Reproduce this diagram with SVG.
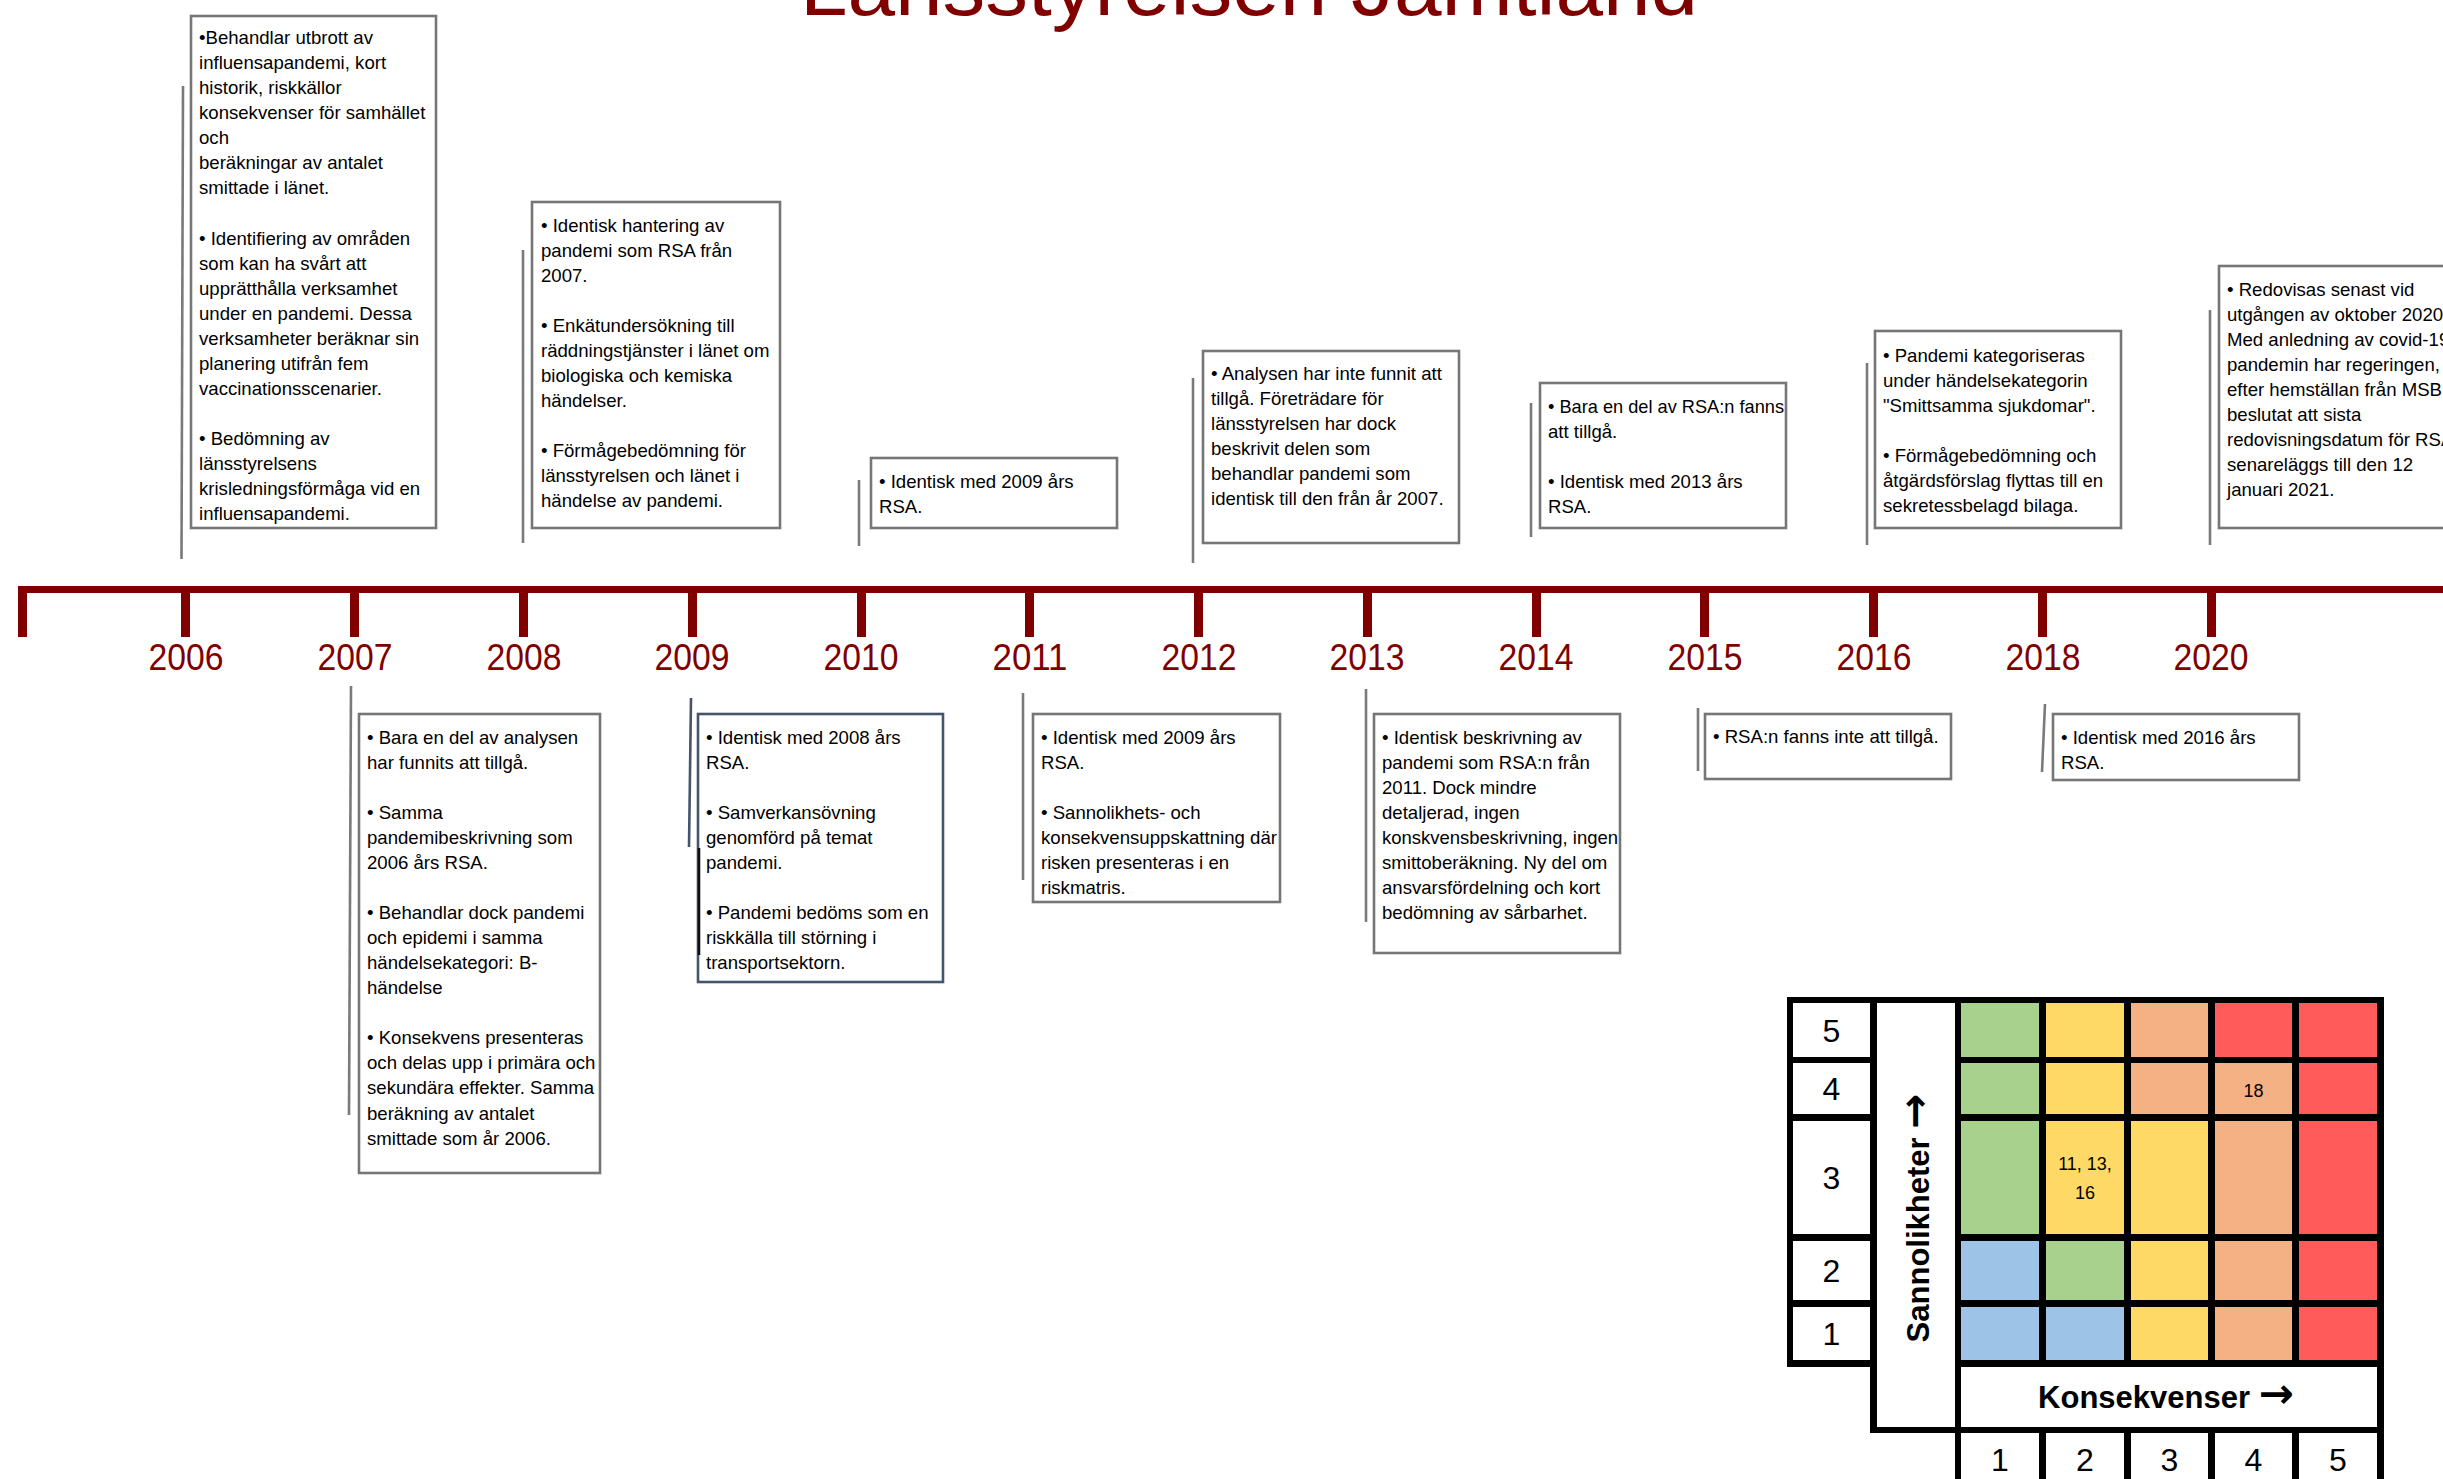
<svg xmlns="http://www.w3.org/2000/svg" width="2443" height="1479" viewBox="0 0 2443 1479">
  <style>
    .box { fill: #ffffff; stroke: #767676; stroke-width: 2.6; }
    .box-blue { fill: #ffffff; stroke: #44546a; stroke-width: 2.6; }
    .txt { font-family: "Liberation Sans", Arial, sans-serif; font-size: 18.6px; fill: #000000; }
    .conn { stroke: #7a7a7a; stroke-width: 2.6; fill: none; }
    .conn-blue { stroke: #44546a; stroke-width: 2.6; fill: none; }
    .conn-dark { stroke: #111111; stroke-width: 2.6; fill: none; }
    .bar { fill: #800000; }
    .year { font-family: "Liberation Sans", Arial, sans-serif; font-size: 37px; fill: #800000; text-anchor: middle; }
    .title { font-family: "Liberation Sans", Arial, sans-serif; font-size: 84px; fill: #800000; }
    .mnum { font-family: "Liberation Sans", Arial, sans-serif; font-size: 32px; fill: #000000; text-anchor: middle; }
    .mlab { font-family: "Liberation Sans", Arial, sans-serif; font-size: 31px; font-weight: bold; fill: #000000; text-anchor: middle; }
    .arrow { font-family: "DejaVu Sans", sans-serif; font-weight: bold; font-size: 42px; }
    .mcell { font-family: "Liberation Sans", Arial, sans-serif; font-size: 18px; fill: #000000; text-anchor: middle; }
    .white { fill: #ffffff; }
    .g { fill: #a9d18e; }
    .y { fill: #ffd966; }
    .o { fill: #f4b183; }
    .r { fill: #ff5b5b; }
    .b { fill: #9dc3e6; }
  </style>

  <rect x="0" y="0" width="2443" height="1479" fill="#ffffff"/>

  <!-- heading, mostly above the top edge -->
  <text class="title" x="800" y="15" textLength="898" lengthAdjust="spacingAndGlyphs">Länsstyrelsen Jämtland</text>

  <!-- timeline axis with year ticks -->
  <g id="timeline">
    <rect class="bar" x="18" y="586" width="2425" height="7"/>
    <rect class="bar" x="18" y="586" width="9" height="51"/>
    <rect class="bar" x="181" y="586" width="9" height="51"/>
    <rect class="bar" x="350" y="586" width="9" height="51"/>
    <rect class="bar" x="519" y="586" width="9" height="51"/>
    <rect class="bar" x="688" y="586" width="9" height="51"/>
    <rect class="bar" x="857" y="586" width="9" height="51"/>
    <rect class="bar" x="1025" y="586" width="9" height="51"/>
    <rect class="bar" x="1194" y="586" width="9" height="51"/>
    <rect class="bar" x="1363" y="586" width="9" height="51"/>
    <rect class="bar" x="1532" y="586" width="9" height="51"/>
    <rect class="bar" x="1700" y="586" width="9" height="51"/>
    <rect class="bar" x="1869" y="586" width="9" height="51"/>
    <rect class="bar" x="2038" y="586" width="9" height="51"/>
    <rect class="bar" x="2207" y="586" width="9" height="51"/>
    <text class="year" x="186" y="670" textLength="75" lengthAdjust="spacingAndGlyphs">2006</text>
    <text class="year" x="355" y="670" textLength="75" lengthAdjust="spacingAndGlyphs">2007</text>
    <text class="year" x="524" y="670" textLength="75" lengthAdjust="spacingAndGlyphs">2008</text>
    <text class="year" x="692" y="670" textLength="75" lengthAdjust="spacingAndGlyphs">2009</text>
    <text class="year" x="861" y="670" textLength="75" lengthAdjust="spacingAndGlyphs">2010</text>
    <text class="year" x="1030" y="670" textLength="75" lengthAdjust="spacingAndGlyphs">2011</text>
    <text class="year" x="1199" y="670" textLength="75" lengthAdjust="spacingAndGlyphs">2012</text>
    <text class="year" x="1367" y="670" textLength="75" lengthAdjust="spacingAndGlyphs">2013</text>
    <text class="year" x="1536" y="670" textLength="75" lengthAdjust="spacingAndGlyphs">2014</text>
    <text class="year" x="1705" y="670" textLength="75" lengthAdjust="spacingAndGlyphs">2015</text>
    <text class="year" x="1874" y="670" textLength="75" lengthAdjust="spacingAndGlyphs">2016</text>
    <text class="year" x="2043" y="670" textLength="75" lengthAdjust="spacingAndGlyphs">2018</text>
    <text class="year" x="2211" y="670" textLength="75" lengthAdjust="spacingAndGlyphs">2020</text>
  </g>

  <!-- leader lines from the axis to the note boxes -->
  <g id="connectors">
    <line class="conn" x1="183" y1="86" x2="181.5" y2="559"/>
    <line class="conn" x1="351" y1="686" x2="349" y2="1115"/>
    <line class="conn" x1="523" y1="250" x2="523" y2="543"/>
    <line class="conn-blue" x1="691" y1="698" x2="689" y2="847"/>
    <line class="conn" x1="859" y1="480" x2="859" y2="546"/>
    <line class="conn" x1="1023" y1="693" x2="1023" y2="880"/>
    <line class="conn" x1="1193" y1="378" x2="1193" y2="563"/>
    <line class="conn" x1="1366" y1="689" x2="1366" y2="922"/>
    <line class="conn" x1="1531" y1="403" x2="1531" y2="537"/>
    <line class="conn" x1="1698" y1="708" x2="1698" y2="771"/>
    <line class="conn" x1="1867" y1="363" x2="1867" y2="545"/>
    <line class="conn" x1="2045" y1="704" x2="2042" y2="772"/>
    <line class="conn" x1="2210" y1="310" x2="2210" y2="545"/>
  </g>

  <g id="note-2006">
    <rect class="box" x="191" y="16" width="245" height="512"/>
    <text class="txt" y="44">
      <tspan x="199">•Behandlar utbrott av</tspan>
      <tspan x="199" dy="25.07">influensapandemi, kort</tspan>
      <tspan x="199" dy="25.07">historik, riskkällor</tspan>
      <tspan x="199" dy="25.07">konsekvenser för samhället</tspan>
      <tspan x="199" dy="25.07">och</tspan>
      <tspan x="199" dy="25.07">beräkningar av antalet</tspan>
      <tspan x="199" dy="25.07">smittade i länet.</tspan>
      <tspan x="199" dy="50.14">• Identifiering av områden</tspan>
      <tspan x="199" dy="25.07">som kan ha svårt att</tspan>
      <tspan x="199" dy="25.07">upprätthålla verksamhet</tspan>
      <tspan x="199" dy="25.07">under en pandemi. Dessa</tspan>
      <tspan x="199" dy="25.07">verksamheter beräknar sin</tspan>
      <tspan x="199" dy="25.07">planering utifrån fem</tspan>
      <tspan x="199" dy="25.07">vaccinationsscenarier.</tspan>
      <tspan x="199" dy="50.14">• Bedömning av</tspan>
      <tspan x="199" dy="25.07">länsstyrelsens</tspan>
      <tspan x="199" dy="25.07">krisledningsförmåga vid en</tspan>
      <tspan x="199" dy="25.07">influensapandemi.</tspan>
    </text>
  </g>

  <g id="note-2007">
    <rect class="box" x="359" y="714" width="241" height="459"/>
    <text class="txt" y="743.5">
      <tspan x="367">• Bara en del av analysen</tspan>
      <tspan x="367" dy="25.07">har funnits att tillgå.</tspan>
      <tspan x="367" dy="50.14">• Samma</tspan>
      <tspan x="367" dy="25.07">pandemibeskrivning som</tspan>
      <tspan x="367" dy="25.07">2006 års RSA.</tspan>
      <tspan x="367" dy="50.14">• Behandlar dock pandemi</tspan>
      <tspan x="367" dy="25.07">och epidemi i samma</tspan>
      <tspan x="367" dy="25.07">händelsekategori: B-</tspan>
      <tspan x="367" dy="25.07">händelse</tspan>
      <tspan x="367" dy="50.14">• Konsekvens presenteras</tspan>
      <tspan x="367" dy="25.07">och delas upp i primära och</tspan>
      <tspan x="367" dy="25.07">sekundära effekter. Samma</tspan>
      <tspan x="367" dy="25.07">beräkning av antalet</tspan>
      <tspan x="367" dy="25.07">smittade som år 2006.</tspan>
    </text>
  </g>

  <g id="note-2008">
    <rect class="box" x="532" y="202" width="248" height="326"/>
    <text class="txt" y="231.5">
      <tspan x="541">• Identisk hantering av</tspan>
      <tspan x="541" dy="25.07">pandemi som RSA från</tspan>
      <tspan x="541" dy="25.07">2007.</tspan>
      <tspan x="541" dy="50.14">• Enkätundersökning till</tspan>
      <tspan x="541" dy="25.07">räddningstjänster i länet om</tspan>
      <tspan x="541" dy="25.07">biologiska och kemiska</tspan>
      <tspan x="541" dy="25.07">händelser.</tspan>
      <tspan x="541" dy="50.14">• Förmågebedömning för</tspan>
      <tspan x="541" dy="25.07">länsstyrelsen och länet i</tspan>
      <tspan x="541" dy="25.07">händelse av pandemi.</tspan>
    </text>
  </g>

  <g id="note-2009">
    <rect class="box-blue" x="698" y="714" width="245" height="268"/>
    <line class="conn-dark" x1="699" y1="848" x2="699" y2="955"/>
    <text class="txt" y="743.5">
      <tspan x="706">• Identisk med 2008 års</tspan>
      <tspan x="706" dy="25.07">RSA.</tspan>
      <tspan x="706" dy="50.14">• Samverkansövning</tspan>
      <tspan x="706" dy="25.07">genomförd på temat</tspan>
      <tspan x="706" dy="25.07">pandemi.</tspan>
      <tspan x="706" dy="50.14">• Pandemi bedöms som en</tspan>
      <tspan x="706" dy="25.07">riskkälla till störning i</tspan>
      <tspan x="706" dy="25.07">transportsektorn.</tspan>
    </text>
  </g>

  <g id="note-2010">
    <rect class="box" x="871" y="458" width="246" height="70"/>
    <text class="txt" y="488">
      <tspan x="879">• Identisk med 2009 års</tspan>
      <tspan x="879" dy="25.07">RSA.</tspan>
    </text>
  </g>

  <g id="note-2011">
    <rect class="box" x="1033" y="714" width="247" height="188"/>
    <text class="txt" y="743.5">
      <tspan x="1041">• Identisk med 2009 års</tspan>
      <tspan x="1041" dy="25.07">RSA.</tspan>
      <tspan x="1041" dy="50.14">• Sannolikhets- och</tspan>
      <tspan x="1041" dy="25.07" textLength="236" lengthAdjust="spacingAndGlyphs">konsekvensuppskattning där</tspan>
      <tspan x="1041" dy="25.07">risken presenteras i en</tspan>
      <tspan x="1041" dy="25.07">riskmatris.</tspan>
    </text>
  </g>

  <g id="note-2012">
    <rect class="box" x="1203" y="351" width="256" height="192"/>
    <text class="txt" y="380">
      <tspan x="1211">• Analysen har inte funnit att</tspan>
      <tspan x="1211" dy="25.07">tillgå. Företrädare för</tspan>
      <tspan x="1211" dy="25.07">länsstyrelsen har dock</tspan>
      <tspan x="1211" dy="25.07">beskrivit delen som</tspan>
      <tspan x="1211" dy="25.07">behandlar pandemi som</tspan>
      <tspan x="1211" dy="25.07">identisk till den från år 2007.</tspan>
    </text>
  </g>

  <g id="note-2013">
    <rect class="box" x="1374" y="714" width="246" height="239"/>
    <text class="txt" y="743.5">
      <tspan x="1382">• Identisk beskrivning av</tspan>
      <tspan x="1382" dy="25.07">pandemi som RSA:n från</tspan>
      <tspan x="1382" dy="25.07">2011. Dock mindre</tspan>
      <tspan x="1382" dy="25.07">detaljerad, ingen</tspan>
      <tspan x="1382" dy="25.07" textLength="236" lengthAdjust="spacingAndGlyphs">konskvensbeskrivning, ingen</tspan>
      <tspan x="1382" dy="25.07">smittoberäkning. Ny del om</tspan>
      <tspan x="1382" dy="25.07">ansvarsfördelning och kort</tspan>
      <tspan x="1382" dy="25.07">bedömning av sårbarhet.</tspan>
    </text>
  </g>

  <g id="note-2014">
    <rect class="box" x="1540" y="383" width="246" height="145"/>
    <text class="txt" y="413">
      <tspan x="1548" textLength="236" lengthAdjust="spacingAndGlyphs">• Bara en del av RSA:n fanns</tspan>
      <tspan x="1548" dy="25.07">att tillgå.</tspan>
      <tspan x="1548" dy="50.14">• Identisk med 2013 års</tspan>
      <tspan x="1548" dy="25.07">RSA.</tspan>
    </text>
  </g>

  <g id="note-2015">
    <rect class="box" x="1705" y="714" width="246" height="65"/>
    <text class="txt" x="1713" y="743">• RSA:n fanns inte att tillgå.</text>
  </g>

  <g id="note-2016">
    <rect class="box" x="1875" y="331" width="246" height="197"/>
    <text class="txt" y="361.5">
      <tspan x="1883">• Pandemi kategoriseras</tspan>
      <tspan x="1883" dy="25.07">under händelsekategorin</tspan>
      <tspan x="1883" dy="25.07">"Smittsamma sjukdomar".</tspan>
      <tspan x="1883" dy="50.14">• Förmågebedömning och</tspan>
      <tspan x="1883" dy="25.07">åtgärdsförslag flyttas till en</tspan>
      <tspan x="1883" dy="25.07">sekretessbelagd bilaga.</tspan>
    </text>
  </g>

  <g id="note-2018">
    <rect class="box" x="2053" y="714" width="246" height="66"/>
    <text class="txt" y="743.5">
      <tspan x="2061">• Identisk med 2016 års</tspan>
      <tspan x="2061" dy="25.07">RSA.</tspan>
    </text>
  </g>

  <g id="note-2020">
    <rect class="box" x="2219" y="266" width="250" height="262"/>
    <text class="txt" y="295.5">
      <tspan x="2227">• Redovisas senast vid</tspan>
      <tspan x="2227" dy="25.07">utgången av oktober 2020.</tspan>
      <tspan x="2227" dy="25.07">Med anledning av covid-19</tspan>
      <tspan x="2227" dy="25.07">pandemin har regeringen,</tspan>
      <tspan x="2227" dy="25.07">efter hemställan från MSB,</tspan>
      <tspan x="2227" dy="25.07">beslutat att sista</tspan>
      <tspan x="2227" dy="25.07">redovisningsdatum för RSA</tspan>
      <tspan x="2227" dy="25.07">senareläggs till den 12</tspan>
      <tspan x="2227" dy="25.07">januari 2021.</tspan>
    </text>
  </g>

  <!-- risk matrix: black frame with coloured cells -->
  <g id="risk-matrix">
    <polygon fill="#000000" points="1787,997 2384,997 2384,1479 1955,1479 1955,1433 1870,1433 1870,1367 1787,1367"/>
    <!-- likelihood numbers -->
    <rect class="white" x="1793" y="1003" width="77" height="54"/>
    <rect class="white" x="1793" y="1063" width="77" height="51"/>
    <rect class="white" x="1793" y="1121" width="77" height="113"/>
    <rect class="white" x="1793" y="1241" width="77" height="59"/>
    <rect class="white" x="1793" y="1307" width="77" height="53"/>
    <text class="mnum" x="1831.5" y="1041.5">5</text>
    <text class="mnum" x="1831.5" y="1100">4</text>
    <text class="mnum" x="1831.5" y="1189">3</text>
    <text class="mnum" x="1831.5" y="1282">2</text>
    <text class="mnum" x="1831.5" y="1345">1</text>
    <!-- axis captions -->
    <rect class="white" x="1877" y="1003" width="78" height="424"/>
    <text class="mlab" transform="translate(1929,1218) rotate(-90)">Sannolikheter <tspan class="arrow">→</tspan></text>
    <rect class="white" x="1961" y="1367" width="416" height="60"/>
    <text class="mlab" x="2166" y="1408">Konsekvenser <tspan class="arrow">→</tspan></text>
    <!-- row 5 -->
    <rect class="g" x="1961" y="1003" width="78" height="54"/>
    <rect class="y" x="2046" y="1003" width="78" height="54"/>
    <rect class="o" x="2131" y="1003" width="77" height="54"/>
    <rect class="r" x="2215" y="1003" width="77" height="54"/>
    <rect class="r" x="2299" y="1003" width="78" height="54"/>
    <!-- row 4 -->
    <rect class="g" x="1961" y="1063" width="78" height="51"/>
    <rect class="y" x="2046" y="1063" width="78" height="51"/>
    <rect class="o" x="2131" y="1063" width="77" height="51"/>
    <rect class="o" x="2215" y="1063" width="77" height="51"/>
    <rect class="r" x="2299" y="1063" width="78" height="51"/>
    <!-- row 3 -->
    <rect class="g" x="1961" y="1121" width="78" height="113"/>
    <rect class="y" x="2046" y="1121" width="78" height="113"/>
    <rect class="y" x="2131" y="1121" width="77" height="113"/>
    <rect class="o" x="2215" y="1121" width="77" height="113"/>
    <rect class="r" x="2299" y="1121" width="78" height="113"/>
    <!-- row 2 -->
    <rect class="b" x="1961" y="1241" width="78" height="59"/>
    <rect class="g" x="2046" y="1241" width="78" height="59"/>
    <rect class="y" x="2131" y="1241" width="77" height="59"/>
    <rect class="o" x="2215" y="1241" width="77" height="59"/>
    <rect class="r" x="2299" y="1241" width="78" height="59"/>
    <!-- row 1 -->
    <rect class="b" x="1961" y="1307" width="78" height="53"/>
    <rect class="b" x="2046" y="1307" width="78" height="53"/>
    <rect class="y" x="2131" y="1307" width="77" height="53"/>
    <rect class="o" x="2215" y="1307" width="77" height="53"/>
    <rect class="r" x="2299" y="1307" width="78" height="53"/>
    <!-- scenario numbers placed in the grid -->
    <text class="mcell" x="2253.5" y="1096.5">18</text>
    <text class="mcell" x="2085" y="1169.5">11, 13,</text>
    <text class="mcell" x="2085" y="1198.5">16</text>
    <!-- consequence numbers -->
    <rect class="white" x="1961" y="1433" width="78" height="50"/>
    <rect class="white" x="2046" y="1433" width="78" height="50"/>
    <rect class="white" x="2131" y="1433" width="77" height="50"/>
    <rect class="white" x="2215" y="1433" width="77" height="50"/>
    <rect class="white" x="2299" y="1433" width="78" height="50"/>
    <text class="mnum" x="2000" y="1471">1</text>
    <text class="mnum" x="2085" y="1471">2</text>
    <text class="mnum" x="2169.5" y="1471">3</text>
    <text class="mnum" x="2253.5" y="1471">4</text>
    <text class="mnum" x="2338" y="1471">5</text>
  </g>
</svg>
